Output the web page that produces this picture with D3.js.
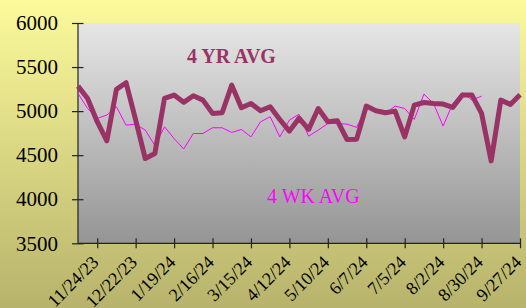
<!DOCTYPE html>
<html><head><meta charset="utf-8">
<script src="https://cdn.jsdelivr.net/npm/d3@7"></script>
<style>html,body{margin:0;padding:0;}svg{display:block;}</style>
</head><body>
<script>
const dates = ["11/10/23","11/17/23","11/24/23","12/1/23","12/8/23","12/15/23","12/22/23","12/29/23",
"1/5/24","1/12/24","1/19/24","1/26/24","2/2/24","2/9/24","2/16/24","2/23/24",
"3/1/24","3/8/24","3/15/24","3/22/24","3/29/24","4/5/24","4/12/24","4/19/24","4/26/24",
"5/3/24","5/10/24","5/17/24","5/24/24","5/31/24","6/7/24","6/14/24","6/21/24","6/28/24",
"7/5/24","7/12/24","7/19/24","7/26/24","8/2/24","8/9/24","8/16/24","8/23/24","8/30/24",
"9/6/24","9/13/24","9/20/24","9/27/24"];
const yr4Avg = [5284,5144,4880,4663,5247,5322,4900,4462,4519,5144,5182,5100,5174,5125,4974,4981,
5295,5038,5087,5004,5049,4905,4773,4920,4792,5030,4879,4890,4678,4682,5057,5004,4981,5000,4708,
5068,5098,5087,5080,5042,5182,5182,4974,4435,5125,5076,5186];
const wk4Avg = [5201,5030,4917,4955,5049,4841,4852,4784,4610,4822,4689,4570,4746,4746,4811,4811,
4758,4792,4708,4879,4936,4708,4898,4964,4716,4784,4860,4860,4852,4815,5042,4992,4974,5057,5030,
4905,5193,5087,4830,5087,5208,5125,5170];
const tickLabels = ["11/24/23","12/22/23","1/19/24","2/16/24","3/15/24","4/12/24","5/10/24","6/7/24","7/5/24","8/2/24","8/30/24","9/27/24"];
const yTicks = [3500,4000,4500,5000,5500,6000];

const W=526,H=308;
const L=78,R=520,T=23,B=243.3;
const svg=d3.select("body").append("svg").attr("width",W).attr("height",H);
const defs=svg.append("defs");
const g1=defs.append("linearGradient").attr("id","bg").attr("x1",0).attr("y1",0).attr("x2",0).attr("y2",1);
g1.append("stop").attr("offset","0%").attr("stop-color","#FCFA9B");
g1.append("stop").attr("offset","100%").attr("stop-color","#B7B36C");
const g2=defs.append("linearGradient").attr("id","pa").attr("x1",0).attr("y1",0).attr("x2",0).attr("y2",1);
g2.append("stop").attr("offset","0%").attr("stop-color","#E6E6E6");
g2.append("stop").attr("offset","100%").attr("stop-color","#959595");
svg.append("rect").attr("width",W).attr("height",H).attr("fill","url(#bg)");
svg.append("rect").attr("x",L).attr("y",T).attr("width",R-L).attr("height",B-T).attr("fill","url(#pa)");

const x=d3.scalePoint().domain(dates).range([L,R]);
const y=d3.scaleLinear().domain([3500,6000]).range([B,T]);

// axes
const ya=svg.append("g").attr("transform",`translate(${L},0)`)
  .call(d3.axisLeft(y).tickValues(yTicks).tickSize(6).tickPadding(14).tickFormat(d3.format("d")));
ya.selectAll(".tick line").attr("x2",5.5).attr("x1",-6);
const xa=svg.append("g").attr("transform",`translate(0,${B})`)
  .call(d3.axisBottom(x).tickValues(tickLabels).tickSize(5));
xa.selectAll(".tick line").attr("y1",-5).attr("y2",5);
[ya,xa].forEach(a=>{a.select(".domain").attr("stroke","#222").attr("stroke-width",1.2);
  a.selectAll(".tick line").attr("stroke","#222").attr("stroke-width",1.2);});
ya.selectAll("text").attr("font-family","Liberation Serif").attr("font-size",21).attr("fill","#000");
xa.selectAll("text").attr("font-family","Liberation Serif").attr("font-size",18).attr("fill","#000")
  .attr("text-anchor","end").attr("dy",0).attr("y",0)
  .attr("transform","translate(2,20) rotate(-45)");
xa.select(".domain").attr("d",`M${L},0H${R}`);
ya.select(".domain").attr("d",`M0,${B}V${T}`);

const line=d3.line().x((d,i)=>x(dates[i])).y(d=>y(d));
svg.append("path").datum(wk4Avg).attr("d",line).attr("fill","none").attr("stroke","#FF00FF").attr("stroke-width",1);
svg.append("path").datum(yr4Avg).attr("d",line).attr("fill","none").attr("stroke","#993366")
  .attr("stroke-width",5).attr("stroke-linejoin","round");

svg.append("text").attr("x",187).attr("y",63).attr("font-family","Liberation Serif").attr("font-weight","bold")
  .attr("font-size",20).attr("fill","#993366").text("4 YR AVG");
svg.append("text").attr("x",267).attr("y",203).attr("font-family","Liberation Serif")
  .attr("font-size",20).attr("fill","#FF00FF").text("4 WK AVG");
</script>
</body></html>
